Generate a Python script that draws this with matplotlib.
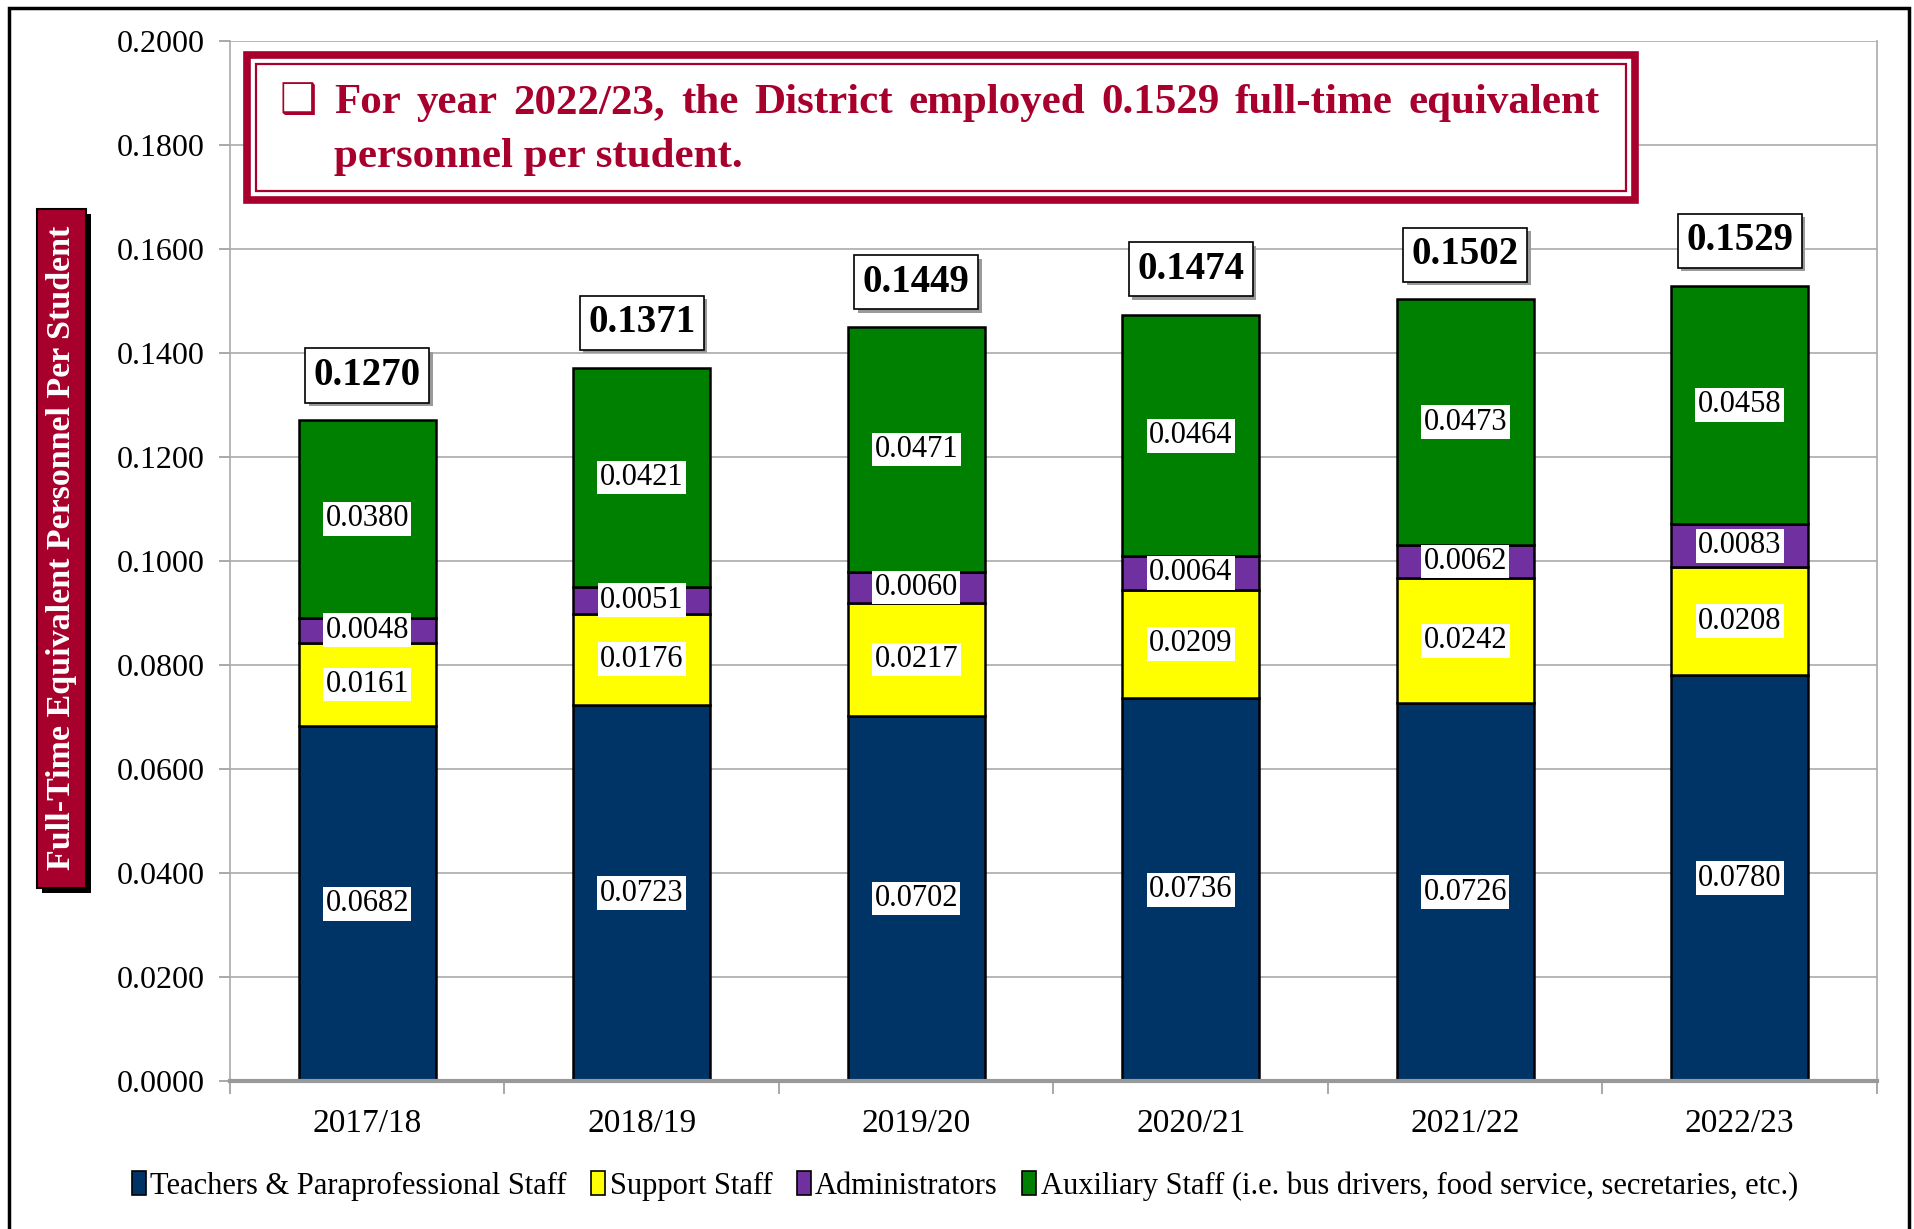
import matplotlib.pyplot as plt
import matplotlib.patches as mpatches
import numpy as np

years = ["2017/18", "2018/19", "2019/20", "2020/21", "2021/22", "2022/23"]
teachers = [0.0682, 0.0723, 0.0702, 0.0736, 0.0726, 0.0780]
support = [0.0161, 0.0176, 0.0217, 0.0209, 0.0242, 0.0208]
admins = [0.0048, 0.0051, 0.0060, 0.0064, 0.0062, 0.0083]
auxiliary = [0.0380, 0.0421, 0.0471, 0.0464, 0.0473, 0.0458]
totals = [0.1270, 0.1371, 0.1449, 0.1474, 0.1502, 0.1529]

names = ["Teachers & Paraprofessional Staff", "Support Staff", "Administrators",
         "Auxiliary Staff (i.e. bus drivers, food service, secretaries, etc.)"]
colors = ["#003366", "#FFFF00", "#7030A0", "#008000"]
red = "#A8002C"
W, H = 1915, 1229

plt.rcParams['font.family'] = ['Liberation Serif', 'DejaVu Serif']

fig = plt.figure(figsize=(W / 100, H / 100), dpi=100)
ax = fig.add_axes([230 / W, 1 - 1081 / H, (1877 - 230) / W, (1081 - 41) / H])


def fx(x):
    return x / W


def fy(y):
    return 1 - y / H


x = np.arange(len(years))
bottom = np.zeros(len(years))
for vals, col in zip([teachers, support, admins, auxiliary], colors):
    ax.bar(x, vals, 0.5, bottom=bottom, color=col, edgecolor="black", linewidth=1.8, zorder=3)
    for xi, b, v in zip(x, bottom, vals):
        ax.text(xi, b + v / 2, f"{v:.4f}", ha="center", va="center", fontsize=22, zorder=5,
                bbox=dict(boxstyle="square,pad=0.08", fc="white", ec="none"))
    bottom += np.array(vals)

for xi, t in zip(x, totals):
    ax.annotate(f"{t:.4f}", (xi, t), xytext=(2.5, 30), textcoords="offset points",
                ha="center", va="center", fontsize=28, fontweight="bold", color=(0, 0, 0, 0),
                bbox=dict(boxstyle="square,pad=0.22", fc="#9a9a9a", ec="none"), zorder=4)
    ax.annotate(f"{t:.4f}", (xi, t), xytext=(0, 32.5), textcoords="offset points",
                ha="center", va="center", fontsize=28, fontweight="bold",
                bbox=dict(boxstyle="square,pad=0.22", fc="white", ec="black", lw=1.2), zorder=5)

ax.set_xlim(-0.5, 5.5)
ax.set_ylim(0, 0.2)
ax.set_yticks(np.arange(0, 0.2001, 0.02))
ax.set_yticklabels([f"{v:.4f}" for v in np.arange(0, 0.2001, 0.02)])
ax.set_xticks(x)
ax.set_xticklabels(years)
ax.set_xticks(np.arange(-0.5, 5.6, 1), minor=True)
ax.tick_params(axis="x", which="major", length=0, pad=20, labelsize=24)
ax.tick_params(axis="x", which="minor", length=9, color="#999999", width=1.2)
ax.tick_params(axis="y", length=8, color="#999999", width=1.2, pad=10, labelsize=23)
ax.grid(axis="y", color="#aaaaaa", linewidth=1.2, zorder=0)
for s in ["left", "right", "top"]:
    ax.spines[s].set_color("#aaaaaa")
    ax.spines[s].set_linewidth(1.2)
ax.spines["top"].set_visible(False)
ax.spines["bottom"].set_color("#999999")
ax.spines["bottom"].set_linewidth(3)
ax.spines["bottom"].set_zorder(4)

# y label box with shadow
fig.add_artist(mpatches.Rectangle((fx(42), fy(893)), (86 - 37) / W, (888 - 209) / H,
                                  transform=fig.transFigure, fc="black", ec="none"))
fig.add_artist(mpatches.Rectangle((fx(37), fy(888)), (86 - 37) / W, (888 - 209) / H,
                                  transform=fig.transFigure, fc=red, ec="black", lw=1.5))
fig.text(fx(62), fy(548), "Full-Time Equivalent Personnel Per Student", rotation=90,
         ha="center", va="center", color="white", fontsize=24.5, fontweight="bold")

# callout box
fig.add_artist(mpatches.Rectangle((fx(247), fy(200)), (1635 - 247) / W, (200 - 55) / H,
                                  transform=fig.transFigure, fc="white", ec=red, lw=5.5))
fig.add_artist(mpatches.Rectangle((fx(256), fy(191)), (1626 - 256) / W, (191 - 64) / H,
                                  transform=fig.transFigure, fc="none", ec=red, lw=1.6))
fig.text(fx(280), fy(113), "\u2751", color=red, fontsize=30, family=["DejaVu Sans"],
         ha="left", va="baseline")

line1 = "For year 2022/23, the District employed 0.1529 full-time equivalent"
line2 = "personnel per student."
renderer = fig.canvas.get_renderer()
words = line1.split()
objs = [fig.text(0, 0, w, color=red, fontsize=31, fontweight="bold", va="baseline") for w in words]
widths = [o.get_window_extent(renderer).width for o in objs]
left, right = 334, 1600
gap = (right - left - sum(widths)) / (len(words) - 1)
pos = left
for o, w in zip(objs, widths):
    o.set_position((fx(pos), fy(113)))
    pos += w + gap
fig.text(fx(left), fy(167), line2, color=red, fontsize=31, fontweight="bold", va="baseline")

# legend
handles = [mpatches.Patch(fc=c, ec="black", lw=1.2) for c in colors]
fig.legend(handles, names, loc="center", bbox_to_anchor=(fx(965), fy(1186)), ncol=4,
           frameon=False, fontsize=22, handlelength=0.45, handleheight=0.8,
           handletextpad=0.15, columnspacing=0.8)

# outer frame
fig.add_artist(mpatches.Rectangle((fx(9), -0.01), (1909 - 9) / W, fy(8) + 0.01,
                                  transform=fig.transFigure, fc="none", ec="black", lw=2.5))

fig.savefig("out.png", dpi=100)
